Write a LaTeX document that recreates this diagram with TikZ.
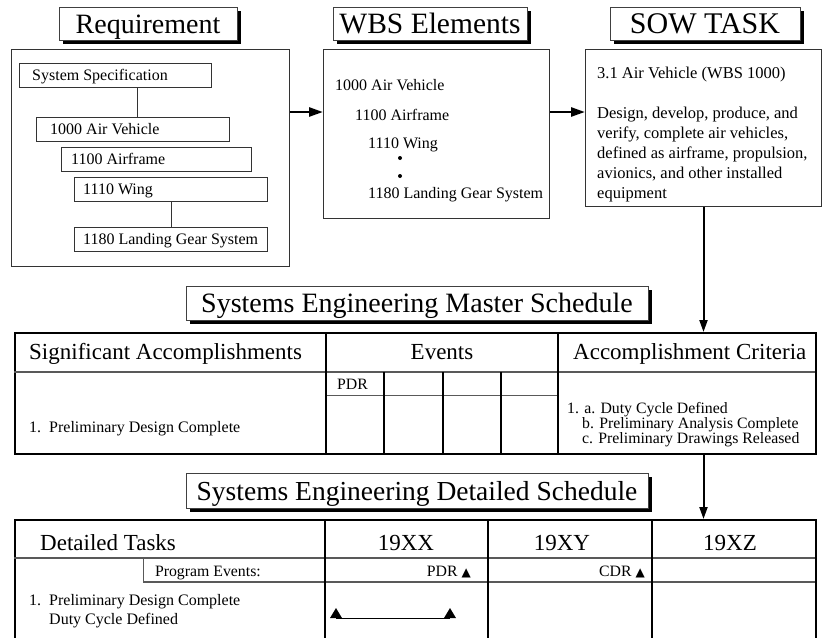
\documentclass[tikz,border=0pt]{standalone}
\usepackage{fontspec}
\setmainfont{Liberation Serif}
\newfontfamily\symf{DejaVu Sans}
\usetikzlibrary{arrows.meta,shadows,calc}
\begin{document}
\begin{tikzpicture}[x=1pt,y=-1pt,
  titlebox/.style={draw=black!75, line width=0.8pt, fill=white, inner sep=0pt,
    text height=22pt, text depth=3pt,
    drop shadow={shadow xshift=4pt, shadow yshift=-4pt, fill=black, opacity=1}},
  mainbox/.style={draw=black!80, line width=1pt, inner sep=0pt, anchor=north west},
  itembox/.style={draw=black!80, line width=0.8pt, inner sep=0pt, anchor=north west},
  tablebox/.style={draw=black, line width=2.4pt, inner sep=0pt, anchor=north west},
  txt/.style={inner sep=0pt, font=\fontsize{16}{19}\selectfont},
  stxt/.style={inner sep=0pt, font=\fontsize{16.5}{20}\selectfont},
  ctxt/.style={inner sep=0pt, font=\fontsize{15.8}{18}\selectfont},
  htxt/.style={inner sep=0pt, font=\fontsize{23}{26}\selectfont},
  vline/.style={draw=black, line width=1.8pt},
  hline/.style={draw=black!65, line width=1.3pt},
  thinline/.style={draw=black!80, line width=0.8pt},
  harr/.style={draw=black, line width=2.6pt, -{Triangle[length=14pt,width=9pt]}},
  varr/.style={draw=black, line width=2pt, -{Triangle[length=12pt,width=8pt]}},
  dot/.style={circle, fill=black, inner sep=0pt, minimum size=4pt}
]
\useasboundingbox (0,0) rectangle (823,638);

% ---------------- titles ----------------
\node[titlebox, minimum width=178pt, minimum height=33pt, font=\fontsize{28}{30}\selectfont] (treq) at (148,23.5) {Requirement};
\node[titlebox, minimum width=194pt, minimum height=33pt, font=\fontsize{29.5}{31}\selectfont] (twbs) at (430,23.5) {WBS Elements};
\node[titlebox, minimum width=190pt, minimum height=33pt, font=\fontsize{30}{32}\selectfont] (tsow) at (705,23.5) {SOW TASK};

% ---------------- main boxes ----------------
\node[mainbox, minimum width=278pt, minimum height=217pt] (req) at (11,49) {};
\node[mainbox, minimum width=226pt, minimum height=169pt] (wbs) at (323,49) {};
\node[mainbox, minimum width=236pt, minimum height=157pt] (sow) at (585,49) {};

% Requirement items
\node[itembox, minimum width=192pt, minimum height=24pt] (ss) at (19,63) {};
\node[itembox, minimum width=193pt, minimum height=24pt] (av) at (36,117) {};
\node[itembox, minimum width=190pt, minimum height=24pt] (af) at (61,147) {};
\node[itembox, minimum width=193pt, minimum height=24pt] (wg) at (74,177) {};
\node[itembox, minimum width=193pt, minimum height=24pt] (lg) at (74,227) {};
\node[txt, anchor=base west] (ssT) at (32,80) {System Specification};
\node[txt, anchor=base west] (avT) at (50,134) {1000 Air Vehicle};
\node[txt, anchor=base west] (afT) at (71,164) {1100 Airframe};
\node[txt, anchor=base west] (wgT) at (83,194) {1110 Wing};
\node[txt, anchor=base west] (lgT) at (83,244) {1180 Landing Gear System};
\draw[thinline] ([xshift=22pt]ss.south) -- ([xshift=22pt]ss.south |- av.north);
\draw[thinline] (wg.south) -- (lg.north);

% WBS items
\node[txt, anchor=base west] (w1) at (335,90) {1000 Air Vehicle};
\node[txt, anchor=base west] (w2) at (355,120) {1100 Airframe};
\node[txt, anchor=base west] (w3) at (368,148) {1110 Wing};
\node[dot] (d1) at (400,158) {};
\node[dot] (d2) at (400,176) {};
\node[txt, anchor=base west] (w4) at (368,198) {1180 Landing Gear System};

% SOW text
\node[stxt, anchor=base west] (s0) at (597,78) {3.1 Air Vehicle (WBS 1000)};
\node[stxt, anchor=base west] (s1) at (597,118) {Design, develop, produce, and};
\node[stxt, anchor=base west] (s2) at (597,138) {verify, complete air vehicles,};
\node[stxt, anchor=base west] (s3) at (597,158) {defined as airframe, propulsion,};
\node[stxt, anchor=base west] (s4) at (597,178) {avionics, and other installed};
\node[stxt, anchor=base west] (s5) at (597,198) {equipment};

% arrows top row
\draw[harr] ([yshift=-63pt]req.north east) -- ([yshift=-63pt]wbs.north west);
\draw[harr] ([yshift=-63pt]wbs.north east) -- ([yshift=-63pt]sow.north west);

% ---------------- master schedule ----------------
\node[titlebox, minimum width=462pt, minimum height=34pt, font=\fontsize{28}{30}\selectfont] (tms) at (417,303) {Systems Engineering Master Schedule};
\node[tablebox, minimum width=801pt, minimum height=121pt] (ms) at (14,332) {};
\draw[hline] (14,372) -- (815,372);
\draw[hline, line width=1pt] (326,395) -- (558,395);
\draw[vline] (326,332) -- (326,453);
\draw[vline] (558,332) -- (558,453);
\draw[vline, line width=1.4pt] (384,372) -- (384,453);
\draw[vline, line width=1.4pt] (443,372) -- (443,453);
\draw[vline, line width=1.4pt] (501,372) -- (501,453);
\node[htxt, anchor=base west] (sa) at (29,359) {Significant Accomplishments};
\node[htxt, anchor=base] (ev) at (442,359) {Events};
\node[htxt, anchor=base west] (acc) at (573,359) {Accomplishment Criteria};
\node[ctxt, anchor=base west] (pdr) at (337,389) {PDR};
\node[txt, anchor=base west] (m1) at (29,432) {\makebox[20pt][l]{1.}Preliminary Design Complete};
\node[ctxt, anchor=base west] (c1) at (567,413) {1. a. Duty Cycle Defined};
\node[ctxt, anchor=base west] (c2) at (582,428) {b. Preliminary Analysis Complete};
\node[ctxt, anchor=base west] (c3) at (582,443) {c. Preliminary Drawings Released};

\draw[varr] (sow.south) -- (sow.south |- ms.north);

% ---------------- detailed schedule ----------------
\node[titlebox, minimum width=462pt, minimum height=35pt, font=\fontsize{27.5}{30}\selectfont] (tds) at (417,490.5) {Systems Engineering Detailed Schedule};
\node[tablebox, minimum width=801pt, minimum height=135pt] (ds) at (14,519) {};
\draw[hline] (14,558) -- (815,558);
\draw[hline] (143,582) -- (815,582);
\draw[hline, line width=1pt] (143,558) -- (143,582);
\draw[vline] (325,519) -- (325,640);
\draw[vline] (488,519) -- (488,640);
\draw[vline] (652,519) -- (652,640);
\node[htxt, anchor=base west] (dt) at (40,550) {Detailed Tasks};
\node[htxt, anchor=base] (yx) at (406,550) {19XX};
\node[htxt, anchor=base] (yy) at (562,550) {19XY};
\node[htxt, anchor=base] (yz) at (730,550) {19XZ};
\node[ctxt, anchor=base east] (pe) at (261,576) {Program Events:};
\node[ctxt, anchor=base east] (pdr2) at (471,576) {PDR {\symf\fontsize{12}{12}\selectfont ▲}};
\node[ctxt, anchor=base east] (cdr) at (645,576) {CDR {\symf\fontsize{12}{12}\selectfont ▲}};
\node[txt, anchor=base west] (dd1) at (29,605) {\makebox[20pt][l]{1.}Preliminary Design Complete};
\node[txt, anchor=base west] (dd2) at (49,624) {Duty Cycle Defined};

\draw[varr] (sow.south |- ms.south) -- (sow.south |- ds.north);

% gantt bar
\coordinate (g1) at (336,618);
\coordinate (g2) at (450,618);
\draw[line width=0.9pt] (g1) -- (g2);
\fill (g1) ++(-6,0) -- ++(12,0) -- ++(-6,-10) -- cycle;
\fill (g2) ++(-6,0) -- ++(12,0) -- ++(-6,-10) -- cycle;
\end{tikzpicture}
\end{document}
